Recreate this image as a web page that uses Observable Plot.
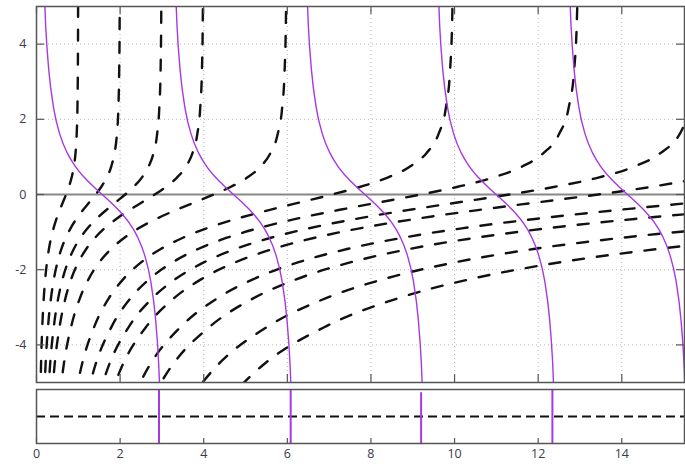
<!DOCTYPE html>
<html><head><meta charset="utf-8">
<script src="https://cdn.jsdelivr.net/npm/d3@7"></script>
<script src="https://cdn.jsdelivr.net/npm/@observablehq/plot@0.6"></script>
<style>body{margin:0;background:#fff} svg{display:block;overflow:visible}</style>
</head><body><div id="chart"></div>
<script>
// ---- data ----
const xDomain = [0, 15.5];
const yDomain = [-5, 5];
const xTicks = [0, 2, 4, 6, 8, 10, 12, 14];
const yTicks = [-4, -2, 0, 2, 4];
const xGrid = [2, 4, 6, 8, 10, 12, 14];
const yGrid = [-4, -2, 2, 4];

// dashed family: shared y levels, x positions per curve (labelled by pole position)
const dashY = [-6, -4.5, -3.5, -2.75, -2.25, -1.8, -1.45, -1.15, -0.9, -0.65, -0.4, -0.2, 0, 0.2, 0.45, 0.75, 1.1, 1.6, 2.3, 3.3, 4.5, 6];
const dashX_a1  = [0.083,0.109,0.139,0.174,0.208,0.251,0.297,0.350,0.407,0.477,0.561,0.634,0.707,0.773,0.840,0.894,0.933,0.961,0.979,0.989,0.994,0.997];
const dashX_a2  = [0.165,0.218,0.277,0.347,0.415,0.502,0.594,0.701,0.814,0.954,1.121,1.268,1.414,1.547,1.680,1.789,1.865,1.923,1.958,1.978,1.988,1.993];
const dashX_a3  = [0.248,0.327,0.416,0.521,0.623,0.752,0.892,1.051,1.221,1.431,1.682,1.902,2.121,2.320,2.519,2.683,2.798,2.884,2.937,2.968,2.982,2.990];
const dashX_a4  = [0.330,0.436,0.555,0.694,0.830,1.003,1.189,1.401,1.628,1.908,2.242,2.536,2.828,3.093,3.359,3.578,3.731,3.845,3.916,3.957,3.976,3.986];
const dashX_a6  = [0.495,0.655,0.832,1.041,1.246,1.505,1.783,2.102,2.441,2.862,3.364,3.804,4.243,4.640,5.039,5.366,5.596,5.768,5.875,5.935,5.964,5.980];
const dashX_a10 = [0.825,1.091,1.387,1.735,2.076,2.508,2.972,3.503,4.069,4.770,5.606,6.340,7.071,7.733,8.398,8.944,9.327,9.613,9.791,9.892,9.940,9.966];
const dashX_a13 = [1.073,1.418,1.803,2.256,2.699,3.260,3.864,4.554,5.290,6.201,7.288,8.242,9.192,10.053,10.917,11.627,12.125,12.497,12.728,12.860,12.922,12.956];
const dashX_a16 = [1.320,1.746,2.219,2.776,3.322,4.013,4.755,5.605,6.510,7.632,8.970,10.144,11.314,12.373,13.437,14.310,14.923,15.381,15.666];
const dashX_a19 = [1.568,2.073,2.635,3.297,3.944,4.765,5.647,6.656,7.731,9.063,10.651,12.046,13.435,14.693,15.956];
const dashX_a25 = [2.063,2.728,3.468,4.338,5.190,6.270,7.430,8.758,10.173,11.925,14.015,15.850];
const dashX_a30 = [2.475,3.273,4.161,5.205,6.228,7.524,8.916,10.509,12.207,14.310,16.818];
const dashX_a40 = [3.300,4.364,5.548,6.940,8.304,10.032,11.888,14.012,16.276];
const dashX_a50 = [4.125,5.455,6.935,8.675,10.380,12.540,14.860,17.515];

// purple branches: shared y levels, x positions per branch
const purpleY = [6, 4.5, 3.3, 2.3, 1.6, 1.1, 0.75, 0.45, 0.2, 0, -0.2, -0.45, -0.75, -1.1, -1.6, -2.3, -3.3, -4.5, -6];
const purpleX_b0 = [0.1652,0.2187,0.2946,0.4101,0.5586,0.7378,0.9273,1.1479,1.3734,1.5708,1.7682,1.9937,2.2143,2.4038,2.5830,2.7315,2.8470,2.9229,2.9764];
const purpleX_b1 = [3.3068,3.3603,3.4362,3.5517,3.7002,3.8794,4.0689,4.2895,4.5150,4.7124,4.9098,5.1353,5.3559,5.5454,5.7246,5.8731,5.9886,6.0645,6.1180];
const purpleX_b2 = [6.4484,6.5019,6.5778,6.6933,6.8418,7.0210,7.2105,7.4311,7.6566,7.8540,8.0514,8.2769,8.4975,8.6870,8.8662,9.0147,9.1302,9.2061,9.2596];
const purpleX_b3 = [9.5900,9.6435,9.7194,9.8349,9.9834,10.1626,10.3521,10.5727,10.7982,10.9956,11.1930,11.4185,11.6391,11.8286,12.0078,12.1563,12.2718,12.3477,12.4012];
const purpleX_b4 = [12.7316,12.7851,12.8610,12.9765,13.1250,13.3042,13.4937,13.7143,13.9398,14.1372,14.3346,14.5601,14.7807,14.9702,15.1494,15.2979,15.4134,15.4893,15.5428];

// bottom strip
const stripPurpleX = [2.93, 6.08, 9.2, 12.34];
const stripPurpleTop = [1, 1, 0.94, 1];
const stripDashY = [0.5];
const zeroLineY = [0];

// ---- build tables ----
const dashCurves = [
  ["a1", dashX_a1], ["a2", dashX_a2], ["a3", dashX_a3], ["a4", dashX_a4], ["a6", dashX_a6],
  ["a10", dashX_a10], ["a13", dashX_a13], ["a16", dashX_a16], ["a19", dashX_a19],
  ["a25", dashX_a25], ["a30", dashX_a30], ["a40", dashX_a40], ["a50", dashX_a50]
];
const dashRows = dashCurves.flatMap(([k, xs]) => xs.map((x, i) => ({curve: k, x, y: dashY[i]})));
const purpleBranches = [["b0", purpleX_b0], ["b1", purpleX_b1], ["b2", purpleX_b2], ["b3", purpleX_b3], ["b4", purpleX_b4]];
const purpleRows = purpleBranches.flatMap(([k, xs]) => xs.map((x, i) => ({branch: k, x, y: purpleY[i]})));
const stripRows = stripPurpleX.map((x, i) => ({x, top: stripPurpleTop[i]}));

const W = 685;
const mainH = 384, mainTop = 6, mainBottom = 2, mL = 36, mR = 1;
const innerMainH = mainH - mainTop - mainBottom;
const innerW = W - mL - mR;
const border = "#555";
const purple = "#a838e2";
const font = {fontFamily: "'Open Sans', 'DejaVu Sans', sans-serif", fontSize: "12.5px", color: "#3a3a4a", background: "#fff"};

const main = Plot.plot({
  width: W, height: mainH,
  marginLeft: mL, marginRight: mR, marginTop: mainTop, marginBottom: mainBottom,
  style: font,
  x: {domain: xDomain, axis: null},
  y: {domain: yDomain},
  marks: [
    Plot.ruleX(xGrid, {stroke: "#b8b8b8", strokeDasharray: "1,3", strokeWidth: 1}),
    Plot.ruleY(yGrid, {stroke: "#b8b8b8", strokeDasharray: "1,3", strokeWidth: 1}),
    Plot.ruleY(zeroLineY, {stroke: "#888", strokeWidth: 2}),
    Plot.line(dashRows, {x: "x", y: "y", z: "curve", stroke: "#111", strokeWidth: 2.4, strokeDasharray: "11,13", curve: "monotone-x", clip: true}),
    Plot.line(purpleRows, {x: "x", y: "y", z: "branch", stroke: purple, strokeWidth: 1.4, curve: "monotone-x", clip: true}),
    // inward ticks
    Plot.ruleX(xTicks, {stroke: border, strokeWidth: 1.2, insetTop: innerMainH - 8}),
    Plot.ruleX(xTicks, {stroke: border, strokeWidth: 1.2, insetBottom: innerMainH - 8}),
    Plot.ruleY(yTicks, {stroke: border, strokeWidth: 1.2, insetRight: innerW - 8}),
    Plot.ruleY(yTicks, {stroke: border, strokeWidth: 1.2, insetLeft: innerW - 8}),
    Plot.axisY(yTicks, {tickSize: 0, tickPadding: 10, label: null, tickFormat: d => String(d)}),
    Plot.frame({stroke: border, strokeWidth: 1.5})
  ]
});

const stripH = 80, stripTop = 5, stripBottom = 21;
const innerStripH = stripH - stripTop - stripBottom;
const strip = Plot.plot({
  width: W, height: stripH,
  marginLeft: mL, marginRight: mR, marginTop: stripTop, marginBottom: stripBottom,
  style: font,
  x: {domain: xDomain},
  y: {domain: [0, 1], axis: null},
  marks: [
    Plot.ruleY(stripDashY, {stroke: "#111", strokeWidth: 2, strokeDasharray: "9,5"}),
    Plot.ruleX(stripRows, {x: "x", y1: 0, y2: "top", stroke: purple, strokeWidth: 2}),
    Plot.ruleX(xTicks, {stroke: border, strokeWidth: 1.2, insetTop: innerStripH - 5}),
    Plot.axisX(xTicks, {tickSize: 0, tickPadding: 6, label: null, tickFormat: d => String(d)}),
    Plot.frame({stroke: border, strokeWidth: 1.5})
  ]
});

const root = document.getElementById("chart");
root.append(main, strip);
</script>
</body></html>
